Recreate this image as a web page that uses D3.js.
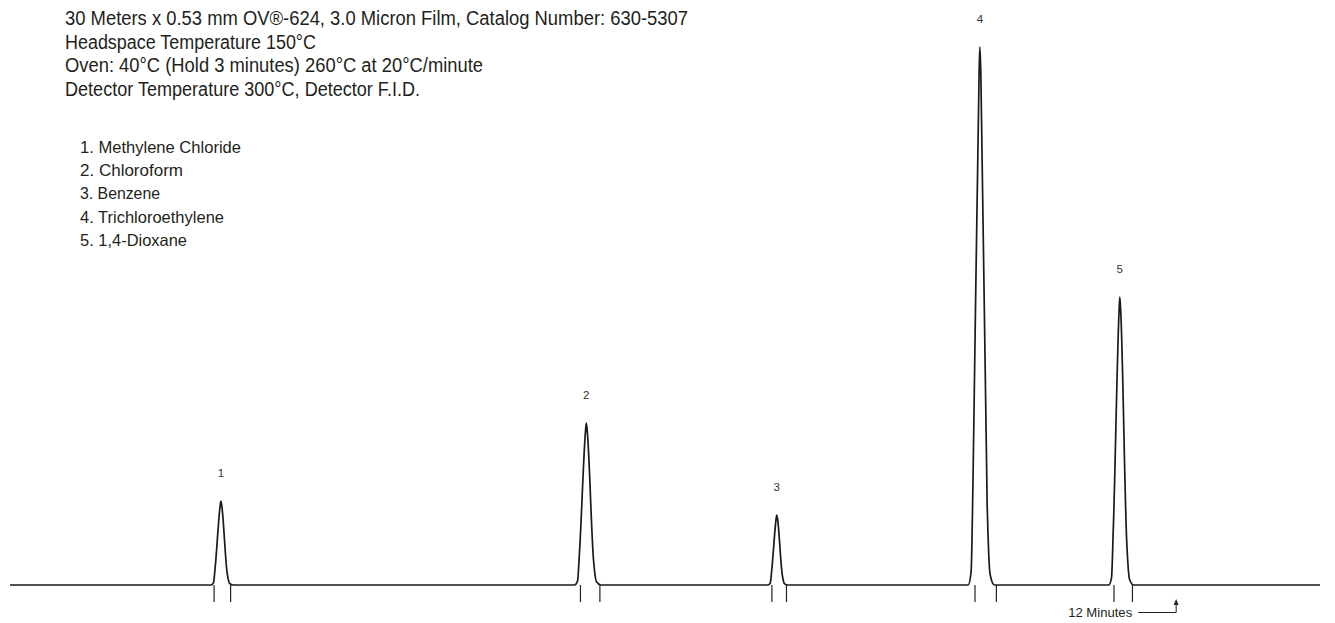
<!DOCTYPE html>
<html><head><meta charset="utf-8">
<script src="https://cdn.jsdelivr.net/npm/d3@7"></script>
<style>
html,body{margin:0;padding:0;background:#fff;}
svg{display:block;}
text{font-family:"Liberation Sans","Arimo",Arial,sans-serif;fill:#231f20;}
</style></head>
<body>
<script>
// ---- data ----
const headerLines = [
  "30 Meters x 0.53 mm OV\u00AE-624, 3.0 Micron Film, Catalog Number: 630-5307",
  "Headspace Temperature 150\u00B0C",
  "Oven: 40\u00B0C (Hold 3 minutes) 260\u00B0C at 20\u00B0C/minute",
  "Detector Temperature 300\u00B0C, Detector F.I.D."
];
const headerWidths = [623, 251, 418, 355];   // rendered (condensed) widths
const compounds = ["Methylene Chloride","Chloroform","Benzene","Trichloroethylene","1,4-Dioxane"];
const legendWidths = [161, 103, 80, 144, 107];
const peakNumbers = [1,2,3,4,5];
const retentionTimes = [2.17, 5.93, 7.89, 9.98, 11.42];   // minutes
const peakHeights = [84, 162, 70, 538, 288];             // detector response (arb.)
const peakWidths = [0.085, 0.10, 0.075, 0.10, 0.095];    // half-width at base, minutes
const tickStart = [2.10, 5.87, 7.84, 9.93, 11.36];       // integration marks (min)
const tickEnd = [2.27, 6.07, 7.99, 10.15, 11.55];
const timeDomain = [0, 13.48];
const markerTime = 12;
const markerLabel = "12 Minutes";

// ---- layout ----
const W = 1335, H = 623;
const svg = d3.select("body").append("svg").attr("width", W).attr("height", H);
const x = d3.scaleLinear().domain(timeDomain).range([10, 1320]);
const y = d3.scaleLinear().domain([0, 538]).range([585, 47]);

// header
svg.append("g").selectAll("text").data(headerLines).join("text")
  .attr("x", 65).attr("y", (d,i)=> 25 + i*23.5)
  .attr("textLength", (d,i)=> headerWidths[i]).attr("lengthAdjust","spacingAndGlyphs")
  .style("font-size","20px").text(d=>d);

// legend
svg.append("g").selectAll("text").data(compounds).join("text")
  .attr("x", 80).attr("y", (d,i)=> 152.5 + i*23.4)
  .attr("textLength", (d,i)=> legendWidths[i]).attr("lengthAdjust","spacingAndGlyphs")
  .style("font-size","16.5px").text((d,i)=> peakNumbers[i] + ". " + d);

// chromatogram trace built from peaks
const pts = [[timeDomain[0], 0]];
retentionTimes.forEach((t,i)=>{
  const w = peakWidths[i], h = peakHeights[i];
  pts.push([t - w*1.2, 0]);
  pts.push([t - w*0.9, 0.025*h]);
  pts.push([t - w*0.7, 0.2*h]);
  pts.push([t - w*0.08, 0.95*h]);
  pts.push([t, h]);
  pts.push([t + w*0.1, 0.95*h]);
  pts.push([t + w*0.75, 0.15*h]);
  pts.push([t + w*1.05, 0.02*h]);
  pts.push([t + w*1.5, 0]);
});
pts.push([timeDomain[1], 0]);

const line = d3.line().x(d=>x(d[0])).y(d=>y(d[1])).curve(d3.curveMonotoneX);
svg.append("path").attr("d", line(pts)).attr("fill","none")
  .attr("stroke","#1a1a1a").attr("stroke-width",1.7).attr("stroke-linejoin","round");

// integration ticks
const ticks = tickStart.concat(tickEnd);
svg.append("g").selectAll("line").data(ticks).join("line")
  .attr("x1", d=>x(d)).attr("x2", d=>x(d))
  .attr("y1", y(0)).attr("y2", y(0)+17)
  .attr("stroke","#222").attr("stroke-width",1.2);

// peak labels
svg.append("g").selectAll("text").data(peakNumbers).join("text")
  .attr("x", (d,i)=> x(retentionTimes[i])).attr("y", (d,i)=> y(peakHeights[i]) - 24)
  .attr("text-anchor","middle").style("font-size","11.5px").style("fill","#333")
  .text(d=>d);

// time marker
const mx = x(markerTime);
svg.append("text").attr("x", mx - 108).attr("y", 616.5)
  .style("font-size","13px").attr("textLength", 64).attr("lengthAdjust","spacingAndGlyphs")
  .text(markerLabel);
svg.append("path").attr("d", `M${mx-38},612.5 H${mx} V${604}`)
  .attr("fill","none").attr("stroke","#222").attr("stroke-width",1);
svg.append("path").attr("d", `M${mx-2.5},${605} L${mx},${599} L${mx+2.5},${605} Z`).attr("fill","#222");
</script>
</body></html>
